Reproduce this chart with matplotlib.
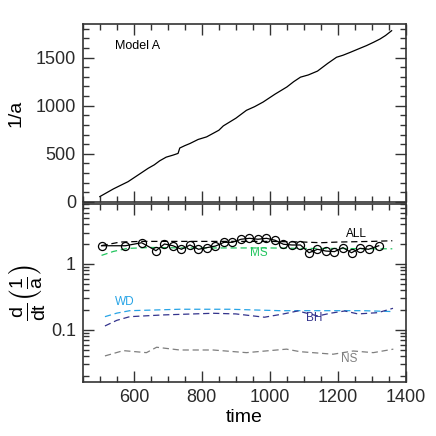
#!/usr/bin/env python3

import numpy as np
import matplotlib.pyplot as plt
from matplotlib.ticker import MultipleLocator, LogLocator, NullFormatter, FixedFormatter, FixedLocator

plt.rcParams.update({
    'font.family': ['Liberation Sans', 'DejaVu Sans'],
    'mathtext.fontset': 'custom',
    'mathtext.rm': 'Liberation Sans',
    'mathtext.it': 'Liberation Sans',
    'mathtext.default': 'regular',
    'font.size': 13,
})

# top panel: 1/a vs time
tInv = [500, 520, 540, 560, 583, 600, 620, 642, 660, 676, 695, 715, 730, 735, 750, 765,
        789, 814, 850, 863, 900, 931, 955, 980, 1015, 1050, 1070, 1090, 1113, 1140,
        1170, 1196, 1215, 1237, 1260, 1284, 1305, 1324, 1340, 1358]
invA = [55, 95, 135, 170, 210, 250, 297, 349, 385, 427, 465, 486, 504, 560, 585, 607,
        649, 676, 745, 790, 870, 952, 990, 1038, 1120, 1195, 1250, 1297, 1320, 1360,
        1440, 1504, 1525, 1556, 1590, 1625, 1660, 1694, 1730, 1780]

# bottom panel: d/dt(1/a)
tAll = [505, 575, 623, 665, 690, 715, 740, 765, 790, 815, 840, 865, 890, 915, 940,
        965, 990, 1015, 1040, 1065, 1090, 1115, 1140, 1165, 1190, 1215, 1240, 1265,
        1290, 1320]
rateAll = [1.89, 1.89, 2.10, 1.59, 2.01, 1.89, 1.67, 1.94, 1.67, 1.77, 1.87, 2.13,
           2.13, 2.37, 2.45, 2.37, 2.45, 2.29, 1.99, 1.94, 1.94, 1.48, 1.67, 1.57,
           1.54, 1.77, 1.48, 1.73, 1.67, 1.89]

tFit = [505, 560, 620, 700, 800, 900, 1000, 1100, 1150, 1200, 1300, 1360]
fitAll = [1.9, 2.15, 2.2, 2.2, 2.2, 2.2, 2.2, 2.15, 2.1, 2.15, 2.2, 2.25]

tMS = [505, 540, 580, 650, 750, 900, 1000, 1100, 1200, 1300, 1360]
rateMS = [1.35, 1.55, 1.72, 1.78, 1.75, 1.75, 1.75, 1.72, 1.72, 1.70, 1.70]

tWD = [515, 550, 588, 650, 735, 882, 1029, 1126, 1200, 1274, 1362]
rateWD = [0.159, 0.18, 0.196, 0.2, 0.206, 0.206, 0.196, 0.196, 0.196, 0.196, 0.19]

tBH = [515, 550, 588, 686, 833, 900, 984, 1040, 1082, 1141, 1180, 1220, 1259, 1318, 1362]
rateBH = [0.115, 0.14, 0.159, 0.169, 0.179, 0.175, 0.156, 0.175, 0.194, 0.163, 0.18,
          0.194, 0.175, 0.183, 0.213]

tNS = [515, 569, 637, 667, 735, 833, 931, 1049, 1088, 1186, 1245, 1304, 1363]
rateNS = [0.0404, 0.0486, 0.0453, 0.0547, 0.0497, 0.0497, 0.0453, 0.0512, 0.0469,
          0.0429, 0.048, 0.0453, 0.0512]

fig = plt.figure(figsize=(4.36, 4.36), dpi=100)
ax1 = fig.add_axes([0.190, 0.537, 0.741, 0.408])
ax2 = fig.add_axes([0.190, 0.124, 0.741, 0.408])

def style(ax):
    for s in ax.spines.values():
        s.set_linewidth(1.2)
        s.set_color('#333333')
    ax.tick_params(which='both', direction='in', top=True, right=True, colors='#333333',
                   labelcolor='#2a2a2a', width=1.0)
    ax.tick_params(which='major', length=8, pad=5)
    ax.tick_params(which='minor', length=4)

# top panel
ax1.plot(tInv, invA, color='black', lw=0.9)
ax1.set_xlim(450, 1400)
ax1.set_ylim(0, 1850)
ax1.xaxis.set_major_locator(MultipleLocator(200))
ax1.xaxis.set_minor_locator(MultipleLocator(50))
ax1.yaxis.set_major_locator(MultipleLocator(500))
ax1.yaxis.set_minor_locator(MultipleLocator(100))
ax1.set_xticklabels([])
ax1.set_ylabel('1/a', labelpad=8, fontsize=14)
ax1.text(0.10, 0.86, 'Model A', transform=ax1.transAxes, fontsize=9)
style(ax1)

# bottom panel
dash = (0, (5, 3))
ax2.plot(tFit, fitAll, color='black', lw=0.9, linestyle=dash)
ax2.plot(tMS, rateMS, color='#22c55e', lw=0.9, linestyle=dash)
ax2.plot(tWD, rateWD, color='#27a4e6', lw=0.9, linestyle=dash)
ax2.plot(tBH, rateBH, color='#33338c', lw=0.9, linestyle=dash)
ax2.plot(tNS, rateNS, color='#7f7f7f', lw=0.9, linestyle=dash)
ax2.plot(tAll, rateAll, color='black', lw=0.9, marker='o', ms=5.8, mfc='none', mew=0.9)
ax2.set_yscale('log')
ax2.set_xlim(450, 1400)
ax2.set_ylim(0.0163, 8.1)
ax2.xaxis.set_major_locator(MultipleLocator(200))
ax2.xaxis.set_minor_locator(MultipleLocator(50))
ax2.yaxis.set_major_locator(FixedLocator([0.1, 1]))
ax2.yaxis.set_major_formatter(FixedFormatter(['0.1', '1']))
ax2.yaxis.set_minor_locator(LogLocator(base=10, subs=np.arange(2, 10)))
ax2.yaxis.set_minor_formatter(NullFormatter())
ax2.set_xlabel('time', labelpad=2, fontsize=14)
ax2.set_ylabel(r'$\frac{d}{dt}\left(\frac{1}{a}\right)$', labelpad=2, fontsize=20)
style(ax2)

ax2.text(1225, 2.55, 'ALL', fontsize=8.5, color='black')
ax2.text(943, 1.3, 'MS', fontsize=8.5, color='#22c55e')
ax2.text(545, 0.235, 'WD', fontsize=8.5, color='#27a4e6')
ax2.text(1105, 0.135, 'BH', fontsize=8.5, color='#33338c')
ax2.text(1210, 0.033, 'NS', fontsize=8.5, color='#7f7f7f')

plt.savefig('out.png', dpi=100)
plt.close()
